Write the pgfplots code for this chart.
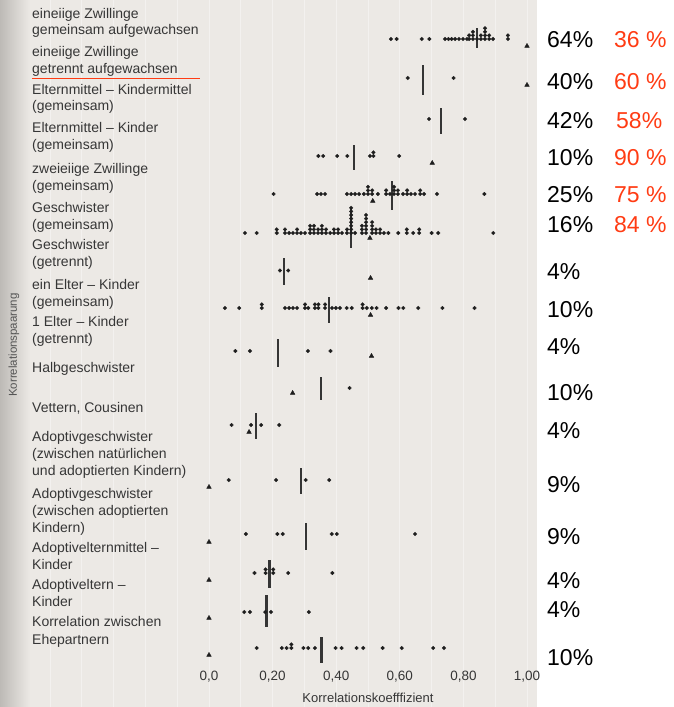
\documentclass[border=0pt]{standalone}
\usepackage{pgfplots}
\pgfplotsset{compat=1.18}
\usepackage{fontspec}
\setmainfont{Liberation Sans}
\definecolor{paper}{HTML}{ECE9E5}
\definecolor{paperdark}{HTML}{BDBAB6}
\definecolor{ink}{HTML}{1E1E1E}
\definecolor{txt}{HTML}{363636}
\definecolor{lab}{HTML}{555555}
\definecolor{redp}{HTML}{FF3C14}
\newcommand\lfont{\fontsize{14}{17}\selectfont}
\newcommand\pfont{\fontsize{23}{27}\selectfont}
\begin{document}
\begin{tikzpicture}
% background (pixel coordinates: x right, y down)
\begin{scope}[yshift=666pt, x=1pt, y=-1pt]
\fill[white] (0,0) rectangle (673,707);
\fill[paper] (0,0) rectangle (537,707);
\shade[left color=paperdark, right color=paper] (0,0) rectangle (30,707);
\foreach \k in {-5,...,10}{
  \draw[white, opacity=0.4, line width=0.9pt] ({209+31.8*\k},0) -- ({209+31.8*\k},707);
}
\end{scope}
\begin{axis}[
  at={(0,0)}, anchor=south west,
  scale only axis, width=673pt, height=666pt,
  xmin=-0.6572, xmax=1.4591, ymin=0, ymax=666, y dir=reverse,
  clip=false,
  axis line style={draw=none}, tick style={draw=none},
  ytick=\empty,
  xtick={0,0.2,0.4,0.6,0.8,1},
  xticklabels={{0,0},{0,20},{0,40},{0,60},{0,80},{1,00}},
  xticklabel style={font=\fontsize{13.5}{16}\selectfont, text=txt, yshift=-2pt},
  xlabel={Korrelationskoefffizient},
  xlabel style={at={(axis description cs:0.5468,-0.048)}, anchor=center, font=\fontsize{13}{16}\selectfont, text=txt},
  ylabel={Korrelationspaarung},
  ylabel style={at={(axis description cs:0.0208,0.482)}, anchor=center, font=\fontsize{11.5}{14}\selectfont, text=lab},
  every axis plot/.append style={ink},
]
% ---- individual study correlations (dots) ----
\pgfplotsset{dots/.style={only marks, mark=*, mark size=1.9pt, mark options={fill=ink, draw=ink, line width=0.2pt}}}
% 1 MZ together
\addplot[dots] coordinates {(0.572,39)(0.590,39)(0.669,39)(0.693,39)(0.742,39)(0.753,39)(0.763,39)(0.774,39)(0.786,39)(0.799,39)(0.811,39)
(0.818,39)(0.818,35.4)(0.830,39)(0.830,35.4)(0.830,31.8)(0.843,39)(0.855,39)(0.855,35.4)
(0.868,39)(0.868,35.4)(0.868,31.8)(0.868,28.2)(0.881,39)(0.881,35.4)(0.893,39)(0.940,39)(0.940,35.4)};
% 2 MZ apart
\addplot[dots] coordinates {(0.625,78)(0.769,78)};
% 3 midparent-midchild
\addplot[dots] coordinates {(0.692,119)(0.805,119)};
% 4 midparent-child
\addplot[dots] coordinates {(0.344,156)(0.359,156)(0.403,156)(0.435,156)(0.506,156)(0.517,156)(0.517,152.4)(0.598,156)};
% 5 DZ twins
\addplot[dots] coordinates {(0.203,194)(0.340,194)(0.352,194)(0.365,194)(0.434,194)(0.447,194)(0.459,194)(0.472,194)
(0.487,194)(0.500,194)(0.500,190.4)(0.500,186.8)(0.513,194)(0.513,190.4)(0.531,194)
(0.557,194)(0.557,190.4)(0.569,194)(0.582,194)(0.582,190.4)(0.582,186.8)(0.594,194)(0.594,190.4)
(0.610,194)(0.623,194)(0.623,190.4)(0.635,194)(0.648,194)(0.664,194)(0.664,190.4)(0.676,194)(0.717,194)(0.866,194)};
% 6 siblings together
\addplot[dots] coordinates {(0.113,233)(0.150,233)(0.213,233)(0.213,229.4)(0.239,233)(0.239,229.4)(0.252,233)(0.264,233)
(0.277,233)(0.277,229.4)(0.289,233)(0.302,233)(0.318,233)(0.318,229.4)(0.318,225.8)(0.330,233)(0.330,229.4)(0.330,225.8)
(0.343,233)(0.343,229.4)(0.355,233)(0.355,229.4)(0.355,225.8)(0.368,233)(0.368,229.4)(0.381,233)
(0.393,233)(0.393,229.4)(0.406,233)(0.406,229.4)(0.418,233)(0.434,233)(0.434,229.4)
(0.447,233)(0.447,229.4)(0.447,225.8)(0.447,222.2)(0.447,218.6)(0.447,215)(0.447,211.4)(0.447,207.8)
(0.459,233)(0.481,233)(0.481,229.4)(0.481,225.8)(0.494,233)(0.494,229.4)(0.494,225.8)(0.494,222.2)(0.494,218.6)(0.494,215)
(0.513,233)(0.513,229.4)(0.513,225.8)(0.513,222.2)(0.525,233)(0.525,229.4)(0.538,233)(0.538,229.4)
(0.550,233)(0.564,233)(0.595,233)(0.622,233)(0.622,229.4)(0.642,233)(0.661,233)(0.661,229.4)(0.700,233)(0.721,233)(0.894,233)};
% 7 siblings apart
\addplot[dots] coordinates {(0.223,270.5)(0.249,270.5)};
% 8 parent-child together
\addplot[dots] coordinates {(0.050,308)(0.095,308)(0.166,308)(0.166,304.4)(0.239,308)(0.252,308)(0.264,308)(0.277,308)
(0.302,308)(0.302,304.4)(0.312,308)(0.333,308)(0.333,304.4)(0.344,308)(0.344,304.4)(0.365,308)(0.365,304.4)
(0.387,308)(0.399,308)(0.412,308)(0.433,308)(0.449,308)(0.483,308)(0.483,304.4)(0.496,308)(0.512,308)(0.527,308)
(0.557,308)(0.596,308)(0.611,308)(0.658,308)(0.734,308)(0.835,308)};
% 9 parent-child apart
\addplot[dots] coordinates {(0.083,351)(0.129,351)(0.311,351)(0.382,351)};
% 10 half siblings
\addplot[dots] coordinates {(0.442,388)};
% 11 cousins
\addplot[dots] coordinates {(0.071,425)(0.132,425)(0.164,425)(0.221,425)};
% 12 adoptive siblings (natural/adopted)
\addplot[dots] coordinates {(0.062,480)(0.211,480)(0.304,480)(0.378,480)};
% 13 adoptive siblings (adopted)
\addplot[dots] coordinates {(0.116,534)(0.215,534)(0.232,534)(0.386,534)(0.402,534)(0.648,534)};
% 14 adoptive midparent - child
\addplot[dots] coordinates {(0.143,573)(0.178,573)(0.178,569.4)(0.202,573)(0.202,569.4)(0.249,573)(0.388,573)};
% 15 adoptive parent - child
\addplot[dots] coordinates {(0.111,612)(0.129,612)(0.177,612)(0.195,612)(0.314,612)};
% 16 spouses
\addplot[dots] coordinates {(0.150,648)(0.229,648)(0.244,648)(0.259,648)(0.259,644.4)(0.297,648)(0.312,648)(0.333,648)
(0.398,648)(0.417,648)(0.464,648)(0.485,648)(0.546,648)(0.606,648)(0.705,648)(0.739,648)};
% ---- medians ----
\pgfplotsset{med/.style={line width=2.3pt, draw=ink!90, no marks}}
\addplot[med] coordinates {(0.843,28)(0.843,48)};
\addplot[med] coordinates {(0.673,65)(0.673,95)};
\addplot[med] coordinates {(0.730,108)(0.730,134)};
\addplot[med] coordinates {(0.457,145)(0.457,170)};
\addplot[med] coordinates {(0.575,181)(0.575,210)};
\addplot[med] coordinates {(0.447,207)(0.447,248)};
\addplot[med] coordinates {(0.236,258)(0.236,285)};
\addplot[med] coordinates {(0.378,297)(0.378,323)};
\addplot[med] coordinates {(0.217,339)(0.217,367)};
\addplot[med] coordinates {(0.353,377)(0.353,400)};
\addplot[med] coordinates {(0.147,413)(0.147,439)};
\addplot[med] coordinates {(0.289,468)(0.289,494)};
\addplot[med] coordinates {(0.305,523)(0.305,550)};
\addplot[med] coordinates {(0.190,560)(0.190,588)};
\addplot[med] coordinates {(0.181,595)(0.181,627)};
\addplot[med] coordinates {(0.354,637)(0.354,663)};
% ---- expected values (triangles) ----
\addplot[only marks, mark=triangle*, mark size=2.6pt, mark options={fill=ink, draw=ink}] coordinates {
(1.0,46)(1.0,85)(0.702,163)(0.515,201)(0.506,238)(0.508,278)(0.508,315)(0.511,356)(0.263,393)(0.126,432)
(0,487)(0,542)(0,580)(0,618)(0,655)};
\end{axis}
% ---- texts in pixel coordinates ----
\begin{scope}[yshift=666pt, x=1pt, y=-1pt, every node/.style={inner sep=0pt, text=txt, font=\lfont, anchor=base west}]
\node at (32,19) {eineiige Zwillinge};
\node at (32,35) {gemeinsam aufgewachsen};
\node at (32,57) {eineiige Zwillinge};
\node at (32,74) {getrennt aufgewachsen};
\draw[redp, line width=1pt] (32,79) -- (200,79);
\node at (32,95) {Elternmittel – Kindermittel};
\node at (32,111) {(gemeinsam)};
\node at (32,133) {Elternmittel – Kinder};
\node at (32,150) {(gemeinsam)};
\node at (32,174) {zweieiige Zwillinge};
\node at (32,191) {(gemeinsam)};
\node at (32,213) {Geschwister};
\node at (32,230) {(gemeinsam)};
\node at (32,250) {Geschwister};
\node at (32,267) {(getrennt)};
\node at (32,290) {ein Elter – Kinder};
\node at (32,307) {(gemeinsam)};
\node at (32,327) {1 Elter – Kinder};
\node at (32,344) {(getrennt)};
\node at (32,373) {Halbgeschwister};
\node at (32,413) {Vettern, Cousinen};
\node at (32,442) {Adoptivgeschwister};
\node at (32,459) {(zwischen natürlichen};
\node at (32,476) {und adoptierten Kindern)};
\node at (32,499) {Adoptivgeschwister};
\node at (32,516) {(zwischen adoptierten};
\node at (32,533) {Kindern)};
\node at (32,553) {Adoptivelternmittel –};
\node at (32,570) {Kinder};
\node at (32,590) {Adoptiveltern –};
\node at (32,607) {Kinder};
\node at (32,627) {Korrelation zwischen};
\node at (32,645) {Ehepartnern};
% right column
\begin{scope}[every node/.style={inner sep=0pt, font=\pfont, anchor=west, text=black}]
\node at (547,40) {64\%};
\node at (547,82) {40\%};
\node at (547,121) {42\%};
\node at (547,158) {10\%};
\node at (547,195) {25\%};
\node at (547,224.5) {16\%};
\node at (547,272) {4\%};
\node at (547,310) {10\%};
\node at (547,347) {4\%};
\node at (547,393) {10\%};
\node at (547,431) {4\%};
\node at (547,485) {9\%};
\node at (547,537) {9\%};
\node at (547,581) {4\%};
\node at (547,610) {4\%};
\node at (547,658) {10\%};
\node[text=redp] at (614,40) {36 \%};
\node[text=redp] at (614,82) {60 \%};
\node[text=redp] at (616,121) {58\%};
\node[text=redp] at (614,158) {90 \%};
\node[text=redp] at (614,195) {75 \%};
\node[text=redp] at (614,224.5) {84 \%};
\end{scope}
\end{scope}
\pgfresetboundingbox
\useasboundingbox (0,-41pt) rectangle (673pt,666pt);
\end{tikzpicture}
\end{document}
